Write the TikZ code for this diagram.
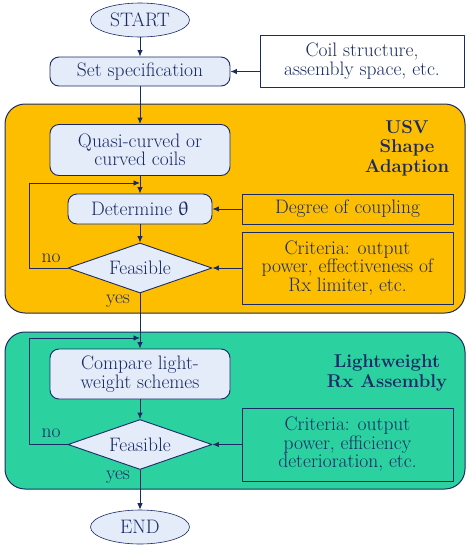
\documentclass[tikz,border=0pt]{standalone}
\usepackage{upgreek}
\usetikzlibrary{shapes.geometric,arrows.meta}
\definecolor{dblue}{HTML}{1A2A66}
\definecolor{lblue}{HTML}{E4ECF9}
\definecolor{usvorange}{HTML}{FDBE00}
\definecolor{rxgreen}{HTML}{2BD19F}
\tikzset{
  term/.style={ellipse,draw=dblue,fill=lblue,line width=0.6pt,minimum width=99pt,minimum height=34pt,inner sep=0pt},
  proc/.style={rectangle,rounded corners=9pt,draw=dblue,fill=lblue,line width=0.9pt,align=center,inner sep=0pt},
  note/.style={rectangle,draw=dblue,line width=0.9pt,align=center,inner sep=0pt,minimum width=211pt},
  dec/.style={diamond,draw=dblue,fill=lblue,line width=0.9pt,inner sep=0pt,shape aspect=2.9,minimum width=144pt,minimum height=50pt},
  grp/.style={draw=dblue,line width=1pt,rounded corners=20pt},
  grptitle/.style={font=\fontsize{18.5}{19.5}\selectfont\bfseries,align=center,inner sep=0pt},
  arr/.style={->,draw=dblue,line width=0.9pt},
  lbl/.style={inner sep=0pt}
}
\begin{document}
\begin{tikzpicture}[x=1pt,y=-1pt,line cap=round,line join=round,>={Latex[length=6.5pt,width=5.5pt]},
  font=\fontsize{19.5}{18.5}\selectfont,text=dblue]
  \useasboundingbox (0,0) rectangle (469,550);
  % regions
  \draw[grp,fill=usvorange] (5,104) rectangle (465,313);
  \draw[grp,fill=rxgreen] (5,332) rectangle (465,489);
  \node[grptitle] (usv) at (407,148) {USV\\Shape\\Adaption};
  \node[grptitle] (lrx) at (387,373) {Lightweight\\Rx Assembly};
  % nodes
  \node[term] (start) at (140,20) {START};
  \node[proc,minimum width=180pt,minimum height=29pt] (spec) at (140,71.5) {Set specification};
  \node[note,fill=white,minimum width=204pt,minimum height=52pt] (coil) at (362,61) {Coil structure,\\assembly space, etc.};
  \node[proc,minimum width=180pt,minimum height=51pt] (quasi) at (140,150) {Quasi-curved or\\curved coils};
  \node[proc,minimum width=144pt,minimum height=30pt] (det) at (140,209) {Determine $\uptheta$};
  \node[note,minimum height=30pt] (coup) at (347.5,209) {Degree of coupling};
  \node[dec] (feas1) at (140,268) {Feasible};
  \node[note,minimum height=72pt] (crit1) at (347.5,268) {Criteria: output\\power, effectiveness of\\Rx limiter, etc.};
  \node[proc,minimum width=180pt,minimum height=50pt] (comp) at (140,374) {Compare light-\\weight schemes};
  \node[dec] (feas2) at (140,444.5) {Feasible};
  \node[note,minimum height=73pt] (crit2) at (347.5,444.5) {Criteria: output\\power, efficiency\\deterioration, etc.};
  \node[term] (end) at (140,527) {END};
  \coordinate (loop1) at (140,183);
  \coordinate (loop2) at (140,338);
  % connectors
  \draw[arr] (start) -- (spec);
  \draw[arr] (coil.west |- spec) -- (spec.east);
  \draw[arr] (spec) -- (quasi);
  \draw[arr] (quasi) -- (det);
  \draw[arr] (coup) -- (det);
  \draw[arr] (det) -- (feas1);
  \draw[arr] (crit1) -- (feas1);
  \draw[arr] (feas1.west) -- ++(-38,0) |- (loop1);
  \draw[arr] (feas1) -- (comp);
  \draw[arr] (comp) -- (feas2);
  \draw[arr] (crit2) -- (feas2);
  \draw[arr] (feas2.west) -- ++(-38,0) |- (loop2);
  \draw[arr] (feas2) -- (end);
  % labels
  \node[lbl] (no1) at (51,258) {no};
  \node[lbl] (yes1) at (118,301) {yes};
  \node[lbl] (no2) at (51,433) {no};
  \node[lbl] (yes2) at (118,477) {yes};
\end{tikzpicture}
\end{document}
